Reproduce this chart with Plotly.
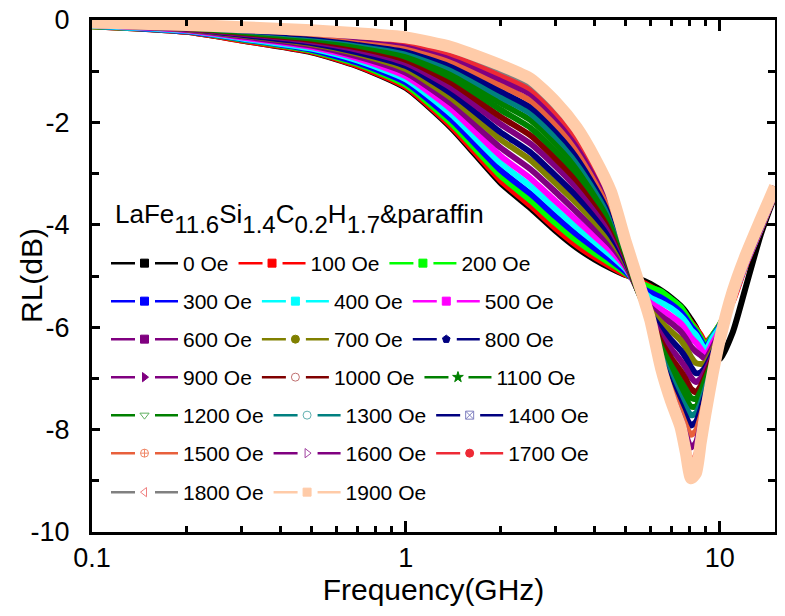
import math
import plotly.graph_objects as go

# ---------------- data ----------------
freq = [0.1, 0.2, 0.3, 0.5, 0.7, 1.0, 1.4, 2.0, 2.5, 3.0, 3.5, 4.0, 4.5, 5.0,
        5.5, 6.0, 6.5, 7.0, 7.5, 7.8, 8.1, 8.4, 8.7, 9.0, 9.5, 10.0, 11.0, 12.0, 13.5, 15.0]

rl_0 = [-0.12, -0.23, -0.40, -0.63, -0.90, -1.33, -2.12, -3.18, -3.68, -4.12, -4.45, -4.68, -4.85, -4.98,
        -5.05, -5.15, -5.28, -5.42, -5.58, -5.70, -5.85, -6.00, -6.20, -6.40, -6.60, -6.62, -6.10, -5.30, -4.20, -3.42]
rl_100 = [-0.12, -0.23, -0.40, -0.62, -0.89, -1.31, -2.09, -3.13, -3.63, -4.07, -4.40, -4.64, -4.82, -4.97,
          -5.08, -5.20, -5.33, -5.48, -5.63, -5.75, -5.90, -6.02, -6.15, -6.30, -6.15, -5.95, -5.50, -4.85, -4.10, -3.40]
rl_200 = [-0.12, -0.22, -0.38, -0.60, -0.86, -1.27, -2.03, -3.04, -3.53, -3.97, -4.31, -4.56, -4.76, -4.94,
          -5.12, -5.22, -5.30, -5.45, -5.60, -5.75, -5.92, -6.05, -6.20, -6.35, -6.15, -5.95, -5.45, -4.82, -4.08, -3.38]
rl_300 = [-0.11, -0.22, -0.37, -0.58, -0.83, -1.22, -1.95, -2.93, -3.40, -3.84, -4.19, -4.46, -4.69, -4.91,
          -5.17, -5.32, -5.42, -5.55, -5.70, -5.83, -5.98, -6.10, -6.25, -6.40, -6.18, -5.97, -5.45, -4.82, -4.08, -3.38]
rl_400 = [-0.11, -0.21, -0.36, -0.56, -0.79, -1.16, -1.85, -2.79, -3.25, -3.69, -4.05, -4.34, -4.60, -4.86,
          -5.20, -5.42, -5.52, -5.63, -5.78, -5.90, -6.05, -6.15, -6.30, -6.45, -6.20, -6.00, -5.45, -4.82, -4.08, -3.38]
rl_500 = [-0.10, -0.20, -0.34, -0.53, -0.75, -1.10, -1.75, -2.65, -3.10, -3.54, -3.91, -4.23, -4.51, -4.82,
          -5.25, -5.52, -5.65, -5.78, -5.92, -6.05, -6.20, -6.30, -6.42, -6.55, -6.30, -6.05, -5.45, -4.82, -4.08, -3.38]
rl_600 = [-0.10, -0.19, -0.32, -0.50, -0.71, -1.03, -1.64, -2.49, -2.92, -3.36, -3.75, -4.09, -4.40, -4.78,
          -5.28, -5.60, -5.78, -5.92, -6.08, -6.22, -6.38, -6.48, -6.55, -6.62, -6.38, -6.10, -5.45, -4.80, -4.07, -3.37]
rl_700 = [-0.09, -0.18, -0.30, -0.47, -0.66, -0.96, -1.53, -2.33, -2.74, -3.19, -3.58, -3.95, -4.30, -4.73,
          -5.30, -5.67, -5.90, -6.08, -6.25, -6.40, -6.58, -6.70, -6.72, -6.70, -6.45, -6.15, -5.43, -4.78, -4.05, -3.35]
rl_800 = [-0.09, -0.17, -0.29, -0.45, -0.63, -0.90, -1.44, -2.19, -2.59, -3.04, -3.44, -3.83, -4.21, -4.69,
          -5.30, -5.73, -6.02, -6.25, -6.45, -6.60, -6.78, -6.90, -6.88, -6.78, -6.50, -6.18, -5.42, -4.77, -4.03, -3.33]
rl_900 = [-0.09, -0.17, -0.27, -0.42, -0.58, -0.84, -1.33, -2.03, -2.42, -2.86, -3.28, -3.69, -4.10, -4.64,
          -5.30, -5.78, -6.15, -6.42, -6.65, -6.80, -6.98, -7.07, -7.00, -6.85, -6.55, -6.20, -5.40, -4.75, -4.02, -3.32]
rl_1000 = [-0.08, -0.16, -0.25, -0.39, -0.54, -0.78, -1.23, -1.89, -2.26, -2.71, -3.13, -3.57, -4.01, -4.60,
           -5.30, -5.82, -6.28, -6.60, -6.85, -7.02, -7.20, -7.27, -7.15, -6.95, -6.60, -6.22, -5.38, -4.73, -4.00, -3.30]
rl_1100 = [-0.08, -0.15, -0.24, -0.36, -0.50, -0.72, -1.13, -1.75, -2.11, -2.56, -2.99, -3.45, -3.92, -4.56,
           -5.30, -5.85, -6.38, -6.75, -7.05, -7.22, -7.38, -7.40, -7.25, -7.02, -6.65, -6.23, -5.37, -4.72, -3.98, -3.30]
rl_1200 = [-0.07, -0.14, -0.22, -0.34, -0.47, -0.66, -1.04, -1.62, -1.96, -2.41, -2.85, -3.33, -3.83, -4.52,
           -5.28, -5.87, -6.47, -6.88, -7.22, -7.40, -7.55, -7.55, -7.35, -7.10, -6.70, -6.24, -5.36, -4.70, -3.96, -3.29]
rl_1300 = [-0.07, -0.14, -0.21, -0.32, -0.43, -0.61, -0.96, -1.50, -1.83, -2.28, -2.73, -3.24, -3.76, -4.48,
           -5.26, -5.88, -6.55, -7.00, -7.38, -7.57, -7.72, -7.68, -7.48, -7.20, -6.75, -6.25, -5.35, -4.69, -3.95, -3.28]
rl_1400 = [-0.07, -0.13, -0.20, -0.30, -0.40, -0.56, -0.88, -1.39, -1.71, -2.15, -2.62, -3.14, -3.68, -4.45,
           -5.24, -5.88, -6.62, -7.12, -7.52, -7.75, -7.92, -7.85, -7.60, -7.30, -6.80, -6.25, -5.34, -4.68, -3.94, -3.27]
rl_1500 = [-0.06, -0.12, -0.18, -0.27, -0.37, -0.51, -0.80, -1.27, -1.58, -2.03, -2.50, -3.04, -3.61, -4.42,
           -5.22, -5.88, -6.68, -7.22, -7.65, -7.92, -8.10, -8.02, -7.75, -7.40, -6.83, -6.25, -5.33, -4.67, -3.93, -3.26]
rl_1600 = [-0.06, -0.12, -0.17, -0.25, -0.34, -0.46, -0.72, -1.16, -1.45, -1.90, -2.38, -2.94, -3.53, -4.38,
           -5.20, -5.87, -6.73, -7.30, -7.77, -8.10, -8.35, -8.25, -7.90, -7.50, -6.86, -6.25, -5.32, -4.66, -3.92, -3.26]
rl_1700 = [-0.06, -0.11, -0.16, -0.23, -0.31, -0.42, -0.66, -1.06, -1.35, -1.80, -2.29, -2.86, -3.47, -4.35,
           -5.20, -5.86, -6.77, -7.38, -7.87, -8.28, -8.62, -8.50, -8.02, -7.58, -6.88, -6.25, -5.31, -4.65, -3.91, -3.25]
rl_1800 = [-0.05, -0.11, -0.15, -0.22, -0.29, -0.38, -0.59, -0.97, -1.25, -1.70, -2.19, -2.78, -3.41, -4.33,
           -5.20, -5.85, -6.79, -7.42, -7.92, -8.35, -8.78, -8.62, -8.08, -7.62, -6.89, -6.25, -5.30, -4.65, -3.90, -3.25]
rl_1900 = [-0.05, -0.10, -0.14, -0.20, -0.26, -0.34, -0.53, -0.88, -1.15, -1.60, -2.10, -2.70, -3.35, -4.30,
           -5.10, -5.85, -6.80, -7.45, -7.95, -8.45, -8.95, -8.85, -8.25, -7.70, -6.90, -6.25, -5.30, -4.65, -3.90, -3.25]

field_labels = ["0 Oe", "100 Oe", "200 Oe", "300 Oe", "400 Oe", "500 Oe", "600 Oe", "700 Oe",
                "800 Oe", "900 Oe", "1000 Oe", "1100 Oe", "1200 Oe", "1300 Oe", "1400 Oe",
                "1500 Oe", "1600 Oe", "1700 Oe", "1800 Oe", "1900 Oe"]

x_tick_vals = [0.1, 1, 10]
x_tick_text = ["0.1", "1", "10"]
x_minor_vals = [0.2, 0.3, 0.4, 0.5, 0.6, 0.7, 0.8, 0.9, 2, 3, 4, 5, 6, 7, 8, 9]
y_tick_vals = [0, -2, -4, -6, -8, -10]
y_tick_text = ["0", "-2", "-4", "-6", "-8", "-10"]

series = [rl_0, rl_100, rl_200, rl_300, rl_400, rl_500, rl_600, rl_700, rl_800, rl_900,
          rl_1000, rl_1100, rl_1200, rl_1300, rl_1400, rl_1500, rl_1600, rl_1700, rl_1800, rl_1900]

# ---------------- styles ----------------
line_colors = ["#000000", "#FF0000", "#00FF00", "#0000FF", "#00FFFF", "#FF00FF", "#800080", "#808000",
               "#000080", "#800080", "#800000", "#008000", "#008000", "#008080", "#000080",
               "#E8603C", "#800080", "#EE2A35", "#808080", "#FFCBA8"]
marker_symbols = ["square", "square", "square", "square", "square", "square", "square", "circle",
                  "pentagon", "triangle-right", "circle-open", "star", "triangle-down-open", "circle-open",
                  "square-x-open", "circle-cross-open", "triangle-right-open", "circle", "triangle-left-open",
                  "square"]
marker_colors = ["#000000", "#FF0000", "#00FF00", "#0000FF", "#00FFFF", "#FF00FF", "#800080", "#808000",
                 "#000080", "#800080", "#C07070", "#008000", "#60B060", "#60B0B0", "#8080C0",
                 "#F08868", "#A040A0", "#EE2A35", "#F08080", "#FFCBA8"]

FONT = "Liberation Sans, Arial, sans-serif"
# the page adds an 8 px body margin, so the figure is 8 px smaller and margins are 8 px tighter
PW = 683.0
PH = 512.0
PLOT_L, PLOT_B = 92, 532

fig = go.Figure()

for i, vals in enumerate(series):
    fig.add_trace(go.Scatter(
        x=freq, y=vals, mode="lines",
        line=dict(color=line_colors[i], width=12 if i == 19 else 6, shape="spline", smoothing=0.6),
        showlegend=False, hoverinfo="skip"))

# one horizontal legend per row, three entries per row (flowing like the original)
row_names = ["legend", "legend2", "legend3", "legend4", "legend5", "legend6", "legend7"]
for i, lab in enumerate(field_labels):
    fig.add_trace(go.Scatter(
        x=[None], y=[None], mode="lines+markers", name=lab,
        legend=row_names[i // 3],
        line=dict(color=line_colors[i], width=2.5, dash="24px,20px,30px"),
        marker=dict(symbol=marker_symbols[i], size=8, color=marker_colors[i],
                    line=dict(color=marker_colors[i], width=1))))

row_centers = [263, 301, 339, 377, 415, 453, 492]
legend_layouts = {}
for r, name in enumerate(row_names):
    legend_layouts[name] = dict(
        font=dict(family=FONT, size=21, color="black"), bgcolor="rgba(0,0,0,0)",
        itemwidth=67, orientation="h", xanchor="left", yanchor="top",
        x=(106 - PLOT_L) / PW, y=(PLOT_B - (row_centers[r] - 20)) / PH,
        itemclick=False, itemdoubleclick=False)

fig.update_layout(
    width=777, height=608,
    margin=dict(l=84, r=10, t=12, b=84, autoexpand=False),
    plot_bgcolor="white", paper_bgcolor="white",
    font=dict(family=FONT, color="black"),
    xaxis=dict(type="log", range=[-1, math.log10(15)], automargin=False,
               tickvals=x_tick_vals, ticktext=x_tick_text, ticklabeloverflow="allow",
               ticks="inside", ticklen=11, tickwidth=2.5, tickcolor="black",
               showline=True, linewidth=3, linecolor="black", mirror="allticks",
               showgrid=False, zeroline=False, ticklabelstandoff=0,
               minor=dict(tickvals=x_minor_vals, ticks="inside", ticklen=6, tickwidth=2.5,
                          tickcolor="black", showgrid=False),
               tickfont=dict(family=FONT, size=27, color="black"),
               title=dict(text="Frequency(GHz)", font=dict(family=FONT, size=30, color="black"),
                          standoff=2)),
    yaxis=dict(range=[-10, 0], tickvals=y_tick_vals, ticktext=y_tick_text, automargin=False,
               ticklabeloverflow="allow",
               ticks="inside", ticklen=8, tickwidth=2.5, tickcolor="black",
               showline=True, linewidth=3, linecolor="black", mirror="allticks",
               showgrid=False, zeroline=False, ticklabelstandoff=14,
               minor=dict(dtick=1, tick0=0, ticks="inside", ticklen=7, tickwidth=2.5,
                          tickcolor="black", showgrid=False),
               tickfont=dict(family=FONT, size=27, color="black")),
    annotations=[
        dict(text="RL(dB)", textangle=-90, xref="paper", yref="paper",
             x=(31 - PLOT_L) / PW, y=0.5, xanchor="center", yanchor="middle", showarrow=False,
             font=dict(family=FONT, size=30, color="black")),
        dict(text=("<sup><span style='font-size:26px'>LaFe</span></sup>11.6"
                   "<sup><span style='font-size:26px'>Si</span></sup>1.4"
                   "<sup><span style='font-size:26px'>C</span></sup>0.2"
                   "<sup><span style='font-size:26px'>H</span></sup>1.7"
                   "<sup><span style='font-size:26px'>&amp;paraffin</span></sup>"),
             xref="paper", yref="paper", x=(113 - PLOT_L) / PW, y=(PLOT_B - 218) / PH,
             xanchor="left", yanchor="middle", showarrow=False,
             font=dict(family=FONT, size=24, color="black"))],
    **legend_layouts,
)

fig.write_html("out.html")
